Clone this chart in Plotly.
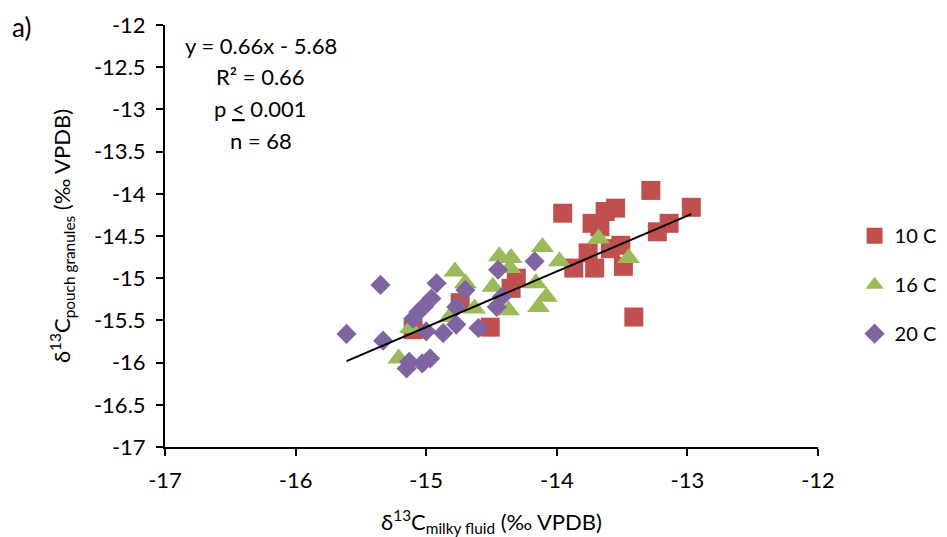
import plotly.graph_objects as go
import numpy as np

# ---- data ----
x_10C = [-13.28, -12.97, -13.955, -13.55, -13.63, -13.73, -13.67, -13.14, -13.23, -13.51,
         -13.76, -13.59, -13.87, -13.71, -13.49, -13.41, -14.31, -14.35, -14.74, -14.51, -15.10]
y_10C = [-13.96, -14.16, -14.23, -14.17, -14.21, -14.35, -14.39, -14.35, -14.45, -14.61,
         -14.70, -14.65, -14.88, -14.88, -14.86, -15.46, -15.00, -15.12, -15.29, -15.58, -15.61]

x_16C = [-14.78, -14.70, -14.44, -14.35, -14.11, -13.98, -13.68, -13.45, -14.49, -14.16,
         -14.08, -14.14, -14.37, -14.63, -15.12, -15.21, -14.82, -14.36]
y_16C = [-14.92, -15.06, -14.74, -14.76, -14.63, -14.80, -14.53, -14.76, -15.10, -15.06,
         -15.22, -15.34, -15.38, -15.36, -15.59, -15.95, -15.46, -14.88]

x_20C = [-15.61, -15.35, -15.33, -14.92, -14.96, -15.02, -15.06, -15.10, -15.00, -14.87,
         -14.77, -14.60, -14.70, -14.77, -14.45, -14.46, -14.42, -14.17, -15.13, -15.15,
         -15.03, -14.97]
y_20C = [-15.66, -15.08, -15.74, -15.06, -15.24, -15.34, -15.40, -15.48, -15.63, -15.65,
         -15.55, -15.59, -15.14, -15.34, -14.90, -15.34, -15.22, -14.80, -15.99, -16.07,
         -16.01, -15.95]

fit_slope = 0.66
fit_intercept = -5.68

x_tickvals = [-17, -16, -15, -14, -13, -12]
x_ticktext = ["-17", "-16", "-15", "-14", "-13", "-12"]
y_tickvals = [-12, -12.5, -13, -13.5, -14, -14.5, -15, -15.5, -16, -16.5, -17]
y_ticktext = ["-12", "-12.5", "-13", "-13.5", "-14", "-14.5", "-15", "-15.5", "-16", "-16.5", "-17"]

stats_lines = ["y = 0.66x - 5.68", "R² = 0.66", "p <u>&lt;</u> 0.001", "n = 68"]

# ---- figure ----
FONT = "Lato"
FS = 22
fig = go.Figure()

all_x = np.array(x_10C + x_16C + x_20C)
fx = np.array([all_x.min(), all_x.max()])
fy = fit_slope * fx + fit_intercept

fig.add_trace(go.Scatter(x=x_10C, y=y_10C, mode="markers", name="10 C", legendgroup="a",
                         marker=dict(symbol="square", size=19, color="#C0504D")))
fig.add_trace(go.Scatter(x=x_16C, y=y_16C, mode="markers", name="16 C", legendgroup="b",
                         marker=dict(symbol="triangle-up", size=20, color="#9BBB59")))
fig.add_trace(go.Scatter(x=x_20C, y=y_20C, mode="markers", name="20 C", legendgroup="c",
                         marker=dict(symbol="diamond", size=15.5, color="#8064A2")))
fig.add_trace(go.Scatter(x=fx, y=fy, mode="lines", showlegend=False,
                         line=dict(color="black", width=2)))

fig.update_layout(
    width=947, height=537,
    margin=dict(l=157, r=137, t=17, b=98, autoexpand=False),
    paper_bgcolor="white", plot_bgcolor="white",
    font=dict(family=FONT, size=FS, color="black"),
    legend=dict(x=1.056, xanchor="left", y=0.547, yanchor="top",
                tracegroupgap=20, font=dict(size=20), bgcolor="rgba(0,0,0,0)"),
    xaxis=dict(range=[-17, -12], tickvals=x_tickvals, ticktext=x_ticktext, automargin=False,
               showgrid=False, zeroline=False, showline=True, linecolor="black", linewidth=2,
               ticks="outside", ticklen=7, tickwidth=2, tickcolor="black",
               ticklabelstandoff=6,
               title=dict(text="δ<sup>13</sup>C<sub>milky fluid</sub> (‰ VPDB)", standoff=22,
                          font=dict(size=FS))),
    yaxis=dict(range=[-17, -12], tickvals=y_tickvals, ticktext=y_ticktext, automargin=False,
               showgrid=False, zeroline=False, showline=True, linecolor="black", linewidth=2,
               ticks="outside", ticklen=7, tickwidth=2, tickcolor="black",
               ticklabelstandoff=6,
               title=dict(text="δ<sup>13</sup>C<sub>pouch granules</sub> (‰ VPDB)", standoff=17,
                          font=dict(size=FS))),
)

line_y0 = 0.9526
line_dy = 0.0758
for i, s in enumerate(stats_lines):
    fig.add_annotation(text=s, xref="paper", yref="paper",
                       x=0.147, y=line_y0 - i * line_dy, xanchor="center", yanchor="middle",
                       showarrow=False, font=dict(size=FS, family=FONT))
fig.add_annotation(text="a)", xref="paper", yref="paper", x=-0.237, y=1.038,
                   xanchor="left", yanchor="top", showarrow=False, font=dict(size=26, family=FONT))

fig.write_html("out.html")
